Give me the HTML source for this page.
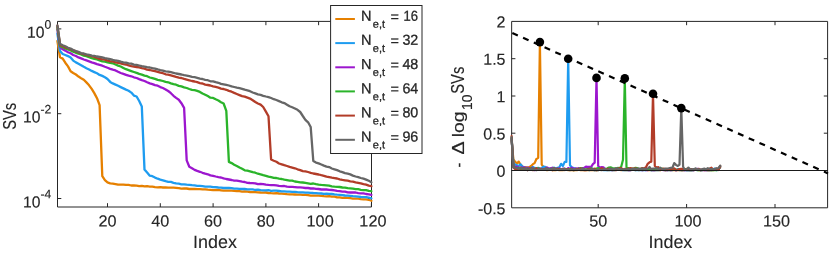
<!DOCTYPE html>
<html><head><meta charset="utf-8"><title>chart</title><style>html,body{margin:0;padding:0;background:#fff}body{width:830px;height:254px;overflow:hidden}</style></head><body>
<svg width="830" height="254" viewBox="0 0 830 254" style="display:block;will-change:transform;font-family:'Liberation Sans',sans-serif">
<rect width="830" height="254" fill="#fff"/>
<path d="M57.5,21.4 H371.5 V207.0 H57.5 Z" fill="none" stroke="#262626" stroke-width="1"/>
<path d="M107.5,207.0 v-3.8 M107.5,21.4 v3.8 M160.3,207.0 v-3.8 M160.3,21.4 v3.8 M213.1,207.0 v-3.8 M213.1,21.4 v3.8 M265.9,207.0 v-3.8 M265.9,21.4 v3.8 M318.6,207.0 v-3.8 M318.6,21.4 v3.8 M371.4,207.0 v-3.8 M371.4,21.4 v3.8 M57.5,28.9 h3.8 M371.5,28.9 h-3.8 M57.5,113.7 h3.8 M371.5,113.7 h-3.8 M57.5,198.5 h3.8 M371.5,198.5 h-3.8" stroke="#262626" stroke-width="1" fill="none"/>
<path d="M57.4,41.0 L60.0,57.3 L62.7,58.6 L65.3,62.7 L68.0,66.4 L70.6,71.2 L73.2,73.0 L75.9,74.5 L78.5,76.6 L81.1,78.2 L83.8,79.7 L86.4,82.4 L89.1,85.3 L91.7,88.9 L94.3,93.1 L97.0,98.2 L99.6,105.1 L102.3,176.2 L104.9,180.1 L107.5,182.4 L110.2,183.4 L112.8,183.7 L115.5,184.1 L118.1,184.7 L120.7,184.6 L123.4,184.6 L126.0,184.9 L128.6,184.8 L131.3,185.5 L133.9,185.5 L136.6,185.6 L139.2,186.1 L141.8,185.9 L144.5,186.4 L147.1,186.2 L149.8,186.6 L152.4,186.7 L155.0,187.2 L157.7,187.4 L160.3,187.2 L162.9,187.5 L165.6,187.5 L168.2,187.7 L170.9,187.7 L173.5,187.7 L176.1,187.8 L178.8,188.2 L181.4,188.7 L184.1,188.5 L186.7,188.5 L189.3,189.0 L192.0,188.9 L194.6,189.0 L197.2,189.2 L199.9,189.2 L202.5,189.3 L205.2,189.3 L207.8,189.7 L210.4,189.8 L213.1,190.1 L215.7,190.0 L218.4,189.9 L221.0,190.3 L223.6,190.7 L226.3,190.6 L228.9,190.6 L231.6,190.7 L234.2,190.9 L236.8,191.1 L239.5,191.1 L242.1,191.6 L244.7,191.5 L247.4,191.7 L250.0,192.0 L252.7,192.2 L255.3,192.1 L257.9,192.3 L260.6,192.5 L263.2,192.6 L265.9,192.5 L268.5,193.0 L271.1,193.2 L273.8,193.3 L276.4,193.2 L279.0,193.5 L281.7,193.6 L284.3,193.8 L287.0,194.2 L289.6,194.3 L292.2,194.4 L294.9,194.5 L297.5,194.7 L300.2,194.7 L302.8,194.9 L305.4,194.9 L308.1,195.2 L310.7,195.7 L313.3,195.6 L316.0,195.6 L318.6,195.7 L321.3,195.8 L323.9,196.1 L326.5,196.3 L329.2,196.2 L331.8,196.7 L334.5,196.7 L337.1,197.3 L339.7,197.3 L342.4,197.8 L345.0,197.7 L347.7,197.9 L350.3,198.2 L352.9,198.6 L355.6,198.7 L358.2,198.7 L360.8,199.1 L363.5,199.3 L366.1,199.4 L368.8,199.8 L371.4,200.8" fill="none" stroke="#E68000" stroke-width="2.3" stroke-linejoin="round" stroke-linecap="round"/>
<path d="M57.4,33.5 L60.0,50.9 L62.7,54.0 L65.3,55.0 L68.0,56.1 L70.6,57.6 L73.2,60.6 L75.9,62.4 L78.5,63.7 L81.1,65.2 L83.8,66.8 L86.4,68.2 L89.1,69.5 L91.7,70.9 L94.3,72.1 L97.0,73.3 L99.6,74.9 L102.3,75.9 L104.9,77.2 L107.5,79.0 L110.2,81.9 L112.8,83.4 L115.5,84.6 L118.1,85.8 L120.7,87.1 L123.4,88.4 L126.0,89.6 L128.6,90.7 L131.3,92.6 L133.9,95.6 L136.6,96.5 L139.2,101.0 L141.8,106.4 L144.5,169.6 L147.1,172.6 L149.8,175.7 L152.4,176.2 L155.0,177.6 L157.7,178.7 L160.3,179.6 L162.9,180.3 L165.6,181.1 L168.2,181.8 L170.9,181.9 L173.5,182.8 L176.1,183.4 L178.8,183.7 L181.4,184.3 L184.1,184.3 L186.7,184.6 L189.3,184.8 L192.0,185.2 L194.6,185.4 L197.2,185.8 L199.9,185.8 L202.5,186.2 L205.2,186.6 L207.8,186.7 L210.4,186.7 L213.1,187.2 L215.7,187.2 L218.4,187.5 L221.0,187.7 L223.6,188.0 L226.3,188.0 L228.9,187.8 L231.6,188.1 L234.2,188.6 L236.8,188.6 L239.5,188.9 L242.1,189.0 L244.7,189.0 L247.4,189.4 L250.0,189.3 L252.7,189.3 L255.3,190.0 L257.9,189.6 L260.6,190.1 L263.2,190.3 L265.9,190.3 L268.5,190.2 L271.1,190.8 L273.8,190.6 L276.4,190.7 L279.0,191.0 L281.7,191.3 L284.3,191.4 L287.0,191.6 L289.6,191.6 L292.2,191.8 L294.9,191.8 L297.5,192.1 L300.2,192.3 L302.8,192.4 L305.4,192.6 L308.1,192.6 L310.7,192.8 L313.3,193.0 L316.0,193.1 L318.6,193.4 L321.3,193.5 L323.9,193.9 L326.5,193.7 L329.2,193.9 L331.8,194.0 L334.5,194.4 L337.1,194.7 L339.7,194.8 L342.4,195.1 L345.0,195.5 L347.7,195.6 L350.3,195.8 L352.9,196.2 L355.6,196.3 L358.2,196.6 L360.8,197.0 L363.5,197.2 L366.1,197.2 L368.8,197.7 L371.4,198.3" fill="none" stroke="#1E9CF0" stroke-width="2.3" stroke-linejoin="round" stroke-linecap="round"/>
<path d="M57.4,29.4 L60.0,46.9 L62.7,49.3 L65.3,50.6 L68.0,52.3 L70.6,53.3 L73.2,55.0 L75.9,56.0 L78.5,57.4 L81.1,58.4 L83.8,59.5 L86.4,60.4 L89.1,61.4 L91.7,62.4 L94.3,63.2 L97.0,64.2 L99.6,64.9 L102.3,65.7 L104.9,66.8 L107.5,67.8 L110.2,68.9 L112.8,69.7 L115.5,70.4 L118.1,71.8 L120.7,73.0 L123.4,73.9 L126.0,74.8 L128.6,75.7 L131.3,76.3 L133.9,77.3 L136.6,78.0 L139.2,79.1 L141.8,80.1 L144.5,81.0 L147.1,82.3 L149.8,83.4 L152.4,84.1 L155.0,85.1 L157.7,85.7 L160.3,87.1 L162.9,88.0 L165.6,89.4 L168.2,91.0 L170.9,93.2 L173.5,95.8 L176.1,97.9 L178.8,99.7 L181.4,103.2 L184.1,107.8 L186.7,160.4 L189.3,166.8 L192.0,168.2 L194.6,169.9 L197.2,170.9 L199.9,171.8 L202.5,172.8 L205.2,173.7 L207.8,174.3 L210.4,175.4 L213.1,175.8 L215.7,176.5 L218.4,177.1 L221.0,177.5 L223.6,178.3 L226.3,179.0 L228.9,179.5 L231.6,180.0 L234.2,180.6 L236.8,180.7 L239.5,181.1 L242.1,181.6 L244.7,182.0 L247.4,182.8 L250.0,183.0 L252.7,183.1 L255.3,183.4 L257.9,184.2 L260.6,183.9 L263.2,184.1 L265.9,184.6 L268.5,184.9 L271.1,185.1 L273.8,185.2 L276.4,185.4 L279.0,185.9 L281.7,186.1 L284.3,186.0 L287.0,186.7 L289.6,186.8 L292.2,186.9 L294.9,187.1 L297.5,187.4 L300.2,187.4 L302.8,187.6 L305.4,188.0 L308.1,188.0 L310.7,188.5 L313.3,188.4 L316.0,188.8 L318.6,189.0 L321.3,189.5 L323.9,189.3 L326.5,189.5 L329.2,189.8 L331.8,190.0 L334.5,190.4 L337.1,190.9 L339.7,191.2 L342.4,191.6 L345.0,191.6 L347.7,192.3 L350.3,192.5 L352.9,192.5 L355.6,192.5 L358.2,193.1 L360.8,193.4 L363.5,193.3 L366.1,194.0 L368.8,194.4 L371.4,194.9" fill="none" stroke="#9C16CE" stroke-width="2.3" stroke-linejoin="round" stroke-linecap="round"/>
<path d="M57.4,27.1 L60.0,46.0 L62.7,47.3 L65.3,48.5 L68.0,49.5 L70.6,50.5 L73.2,51.7 L75.9,52.8 L78.5,53.7 L81.1,54.4 L83.8,55.7 L86.4,56.1 L89.1,57.2 L91.7,58.2 L94.3,58.8 L97.0,59.5 L99.6,60.4 L102.3,61.3 L104.9,61.7 L107.5,62.3 L110.2,62.9 L112.8,63.3 L115.5,64.5 L118.1,65.6 L120.7,66.5 L123.4,67.9 L126.0,69.2 L128.6,70.1 L131.3,71.1 L133.9,72.0 L136.6,72.9 L139.2,73.9 L141.8,74.6 L144.5,75.6 L147.1,76.2 L149.8,77.5 L152.4,78.1 L155.0,78.9 L157.7,79.8 L160.3,80.4 L162.9,81.0 L165.6,81.9 L168.2,82.3 L170.9,83.4 L173.5,84.2 L176.1,84.7 L178.8,85.9 L181.4,86.4 L184.1,87.4 L186.7,88.0 L189.3,89.0 L192.0,89.8 L194.6,90.2 L197.2,90.9 L199.9,91.9 L202.5,93.5 L205.2,94.7 L207.8,96.1 L210.4,97.7 L213.1,97.9 L215.7,99.3 L218.4,100.5 L221.0,102.2 L223.6,103.5 L226.3,110.9 L228.9,161.9 L231.6,163.1 L234.2,164.7 L236.8,166.0 L239.5,167.5 L242.1,168.8 L244.7,170.3 L247.4,170.7 L250.0,171.4 L252.7,172.2 L255.3,172.7 L257.9,173.7 L260.6,174.4 L263.2,175.2 L265.9,175.8 L268.5,176.6 L271.1,177.2 L273.8,177.9 L276.4,178.0 L279.0,178.7 L281.7,179.0 L284.3,179.7 L287.0,180.2 L289.6,180.7 L292.2,180.7 L294.9,181.5 L297.5,181.9 L300.2,182.3 L302.8,182.5 L305.4,182.9 L308.1,183.4 L310.7,183.9 L313.3,183.5 L316.0,184.2 L318.6,184.6 L321.3,184.9 L323.9,185.1 L326.5,185.3 L329.2,185.7 L331.8,186.3 L334.5,186.6 L337.1,186.8 L339.7,187.0 L342.4,187.5 L345.0,187.7 L347.7,188.2 L350.3,188.4 L352.9,188.7 L355.6,189.1 L358.2,189.2 L360.8,189.8 L363.5,190.2 L366.1,190.2 L368.8,190.9 L371.4,191.2" fill="none" stroke="#2AB42A" stroke-width="2.3" stroke-linejoin="round" stroke-linecap="round"/>
<path d="M57.4,25.7 L60.0,44.7 L62.7,46.1 L65.3,47.4 L68.0,48.2 L70.6,49.3 L73.2,50.3 L75.9,51.4 L78.5,52.5 L81.1,53.5 L83.8,54.1 L86.4,55.0 L89.1,55.7 L91.7,56.2 L94.3,56.9 L97.0,58.0 L99.6,58.9 L102.3,59.3 L104.9,59.7 L107.5,60.6 L110.2,61.3 L112.8,61.4 L115.5,62.4 L118.1,62.9 L120.7,63.4 L123.4,64.2 L126.0,64.5 L128.6,65.3 L131.3,66.1 L133.9,66.5 L136.6,67.0 L139.2,67.4 L141.8,68.1 L144.5,68.6 L147.1,69.7 L149.8,70.0 L152.4,70.6 L155.0,71.2 L157.7,71.9 L160.3,72.7 L162.9,73.2 L165.6,74.3 L168.2,74.6 L170.9,75.3 L173.5,76.1 L176.1,76.9 L178.8,77.6 L181.4,78.0 L184.1,78.9 L186.7,79.6 L189.3,80.3 L192.0,81.0 L194.6,81.5 L197.2,82.2 L199.9,83.1 L202.5,83.5 L205.2,84.6 L207.8,85.0 L210.4,85.5 L213.1,86.3 L215.7,86.9 L218.4,87.6 L221.0,88.6 L223.6,89.0 L226.3,89.8 L228.9,90.9 L231.6,91.7 L234.2,92.9 L236.8,94.0 L239.5,95.1 L242.1,96.1 L244.7,96.7 L247.4,97.7 L250.0,98.6 L252.7,100.2 L255.3,102.0 L257.9,103.5 L260.6,104.6 L263.2,107.0 L265.9,111.6 L268.5,116.2 L271.1,159.5 L273.8,160.8 L276.4,161.8 L279.0,163.5 L281.7,164.3 L284.3,165.2 L287.0,166.0 L289.6,166.9 L292.2,167.6 L294.9,168.3 L297.5,169.3 L300.2,170.1 L302.8,171.1 L305.4,171.4 L308.1,172.0 L310.7,172.8 L313.3,173.5 L316.0,174.0 L318.6,174.5 L321.3,175.2 L323.9,175.8 L326.5,176.7 L329.2,177.2 L331.8,177.7 L334.5,178.1 L337.1,178.5 L339.7,179.3 L342.4,179.9 L345.0,180.3 L347.7,180.7 L350.3,181.4 L352.9,181.7 L355.6,182.4 L358.2,182.8 L360.8,183.4 L363.5,184.2 L366.1,184.7 L368.8,185.7 L371.4,186.2" fill="none" stroke="#B23C28" stroke-width="2.3" stroke-linejoin="round" stroke-linecap="round"/>
<path d="M57.4,25.3 L60.0,43.8 L62.7,45.2 L65.3,46.3 L68.0,47.8 L70.6,48.6 L73.2,50.0 L75.9,51.1 L78.5,51.9 L81.1,53.1 L83.8,53.5 L86.4,54.3 L89.1,54.8 L91.7,55.7 L94.3,55.9 L97.0,56.5 L99.6,56.8 L102.3,57.4 L104.9,58.1 L107.5,58.6 L110.2,59.2 L112.8,59.9 L115.5,60.5 L118.1,60.8 L120.7,61.7 L123.4,62.3 L126.0,62.7 L128.6,63.4 L131.3,63.7 L133.9,64.6 L136.6,64.9 L139.2,65.5 L141.8,66.2 L144.5,66.6 L147.1,67.2 L149.8,67.5 L152.4,68.2 L155.0,68.6 L157.7,69.4 L160.3,70.1 L162.9,70.6 L165.6,71.3 L168.2,71.6 L170.9,72.2 L173.5,72.8 L176.1,73.5 L178.8,74.0 L181.4,74.5 L184.1,75.2 L186.7,75.6 L189.3,76.2 L192.0,76.9 L194.6,77.2 L197.2,77.8 L199.9,78.6 L202.5,79.0 L205.2,79.8 L207.8,80.2 L210.4,81.3 L213.1,81.3 L215.7,82.1 L218.4,82.8 L221.0,83.9 L223.6,84.4 L226.3,84.9 L228.9,85.5 L231.6,86.4 L234.2,87.0 L236.8,87.6 L239.5,88.1 L242.1,88.8 L244.7,89.7 L247.4,90.4 L250.0,91.2 L252.7,92.5 L255.3,93.4 L257.9,94.4 L260.6,94.9 L263.2,95.8 L265.9,96.5 L268.5,97.1 L271.1,98.0 L273.8,99.2 L276.4,100.0 L279.0,101.1 L281.7,102.3 L284.3,103.1 L287.0,104.7 L289.6,106.3 L292.2,107.3 L294.9,108.5 L297.5,109.8 L300.2,112.0 L302.8,116.0 L305.4,119.8 L308.1,122.3 L310.7,127.0 L313.3,161.0 L316.0,162.6 L318.6,163.4 L321.3,164.5 L323.9,165.6 L326.5,166.6 L329.2,167.1 L331.8,168.5 L334.5,169.3 L337.1,170.1 L339.7,171.3 L342.4,172.1 L345.0,173.1 L347.7,173.7 L350.3,174.4 L352.9,175.6 L355.6,176.5 L358.2,177.1 L360.8,178.0 L363.5,178.7 L366.1,179.6 L368.8,180.8 L371.4,182.2" fill="none" stroke="#666666" stroke-width="2.3" stroke-linejoin="round" stroke-linecap="round"/>
<text transform="translate(107.53,226.60) rotate(0.04) scale(1.0140,1.0007)" font-size="16.0" text-anchor="middle" fill="#262626" stroke="#262626" stroke-width="0.15">20</text>
<text transform="translate(160.31,226.60) rotate(0.04) scale(1.0140,1.0007)" font-size="16.0" text-anchor="middle" fill="#262626" stroke="#262626" stroke-width="0.15">40</text>
<text transform="translate(213.08,226.60) rotate(0.04) scale(1.0140,1.0007)" font-size="16.0" text-anchor="middle" fill="#262626" stroke="#262626" stroke-width="0.15">60</text>
<text transform="translate(265.85,226.60) rotate(0.04) scale(1.0140,1.0007)" font-size="16.0" text-anchor="middle" fill="#262626" stroke="#262626" stroke-width="0.15">80</text>
<text transform="translate(320.13,226.60) rotate(0.04) scale(1.0140,1.0007)" font-size="16.0" text-anchor="middle" fill="#262626" stroke="#262626" stroke-width="0.15">100</text>
<text transform="translate(372.90,226.60) rotate(0.04) scale(1.0140,1.0007)" font-size="16.0" text-anchor="middle" fill="#262626" stroke="#262626" stroke-width="0.15">120</text>
<text transform="translate(51.20,37.80) rotate(0.04) scale(0.9800,1.0007)" font-size="16.0" text-anchor="end" fill="#262626" stroke="#262626" stroke-width="0.15">10<tspan font-size="12.4" dy="-9.1">0</tspan></text>
<text transform="translate(51.20,122.60) rotate(0.04) scale(0.9800,1.0007)" font-size="16.0" text-anchor="end" fill="#262626" stroke="#262626" stroke-width="0.15">10<tspan font-size="12.4" dy="-9.1">-2</tspan></text>
<text transform="translate(51.20,207.40) rotate(0.04) scale(0.9800,1.0007)" font-size="16.0" text-anchor="end" fill="#262626" stroke="#262626" stroke-width="0.15">10<tspan font-size="12.4" dy="-9.1">-4</tspan></text>
<text transform="translate(215.00,248.00) rotate(0.04) scale(1.0007,1.0007)" font-size="17.9" text-anchor="middle" fill="#262626" stroke="#262626" stroke-width="0.1">Index</text>
<text transform="translate(15.70,116.30) rotate(-90) scale(0.8040,1.0007)" font-size="18.4" text-anchor="middle" fill="#262626" stroke="#262626" stroke-width="0.15">SVs</text>
<rect x="330.6" y="5.5" width="91.4" height="148" fill="#fff" stroke="#262626" stroke-width="1"/>
<path d="M335.3,19.0 H354.9" stroke="#E68000" stroke-width="2"/>
<text transform="translate(360.90,20.70) rotate(0.04) scale(1.0007,1.0007)" font-size="14.5" text-anchor="start" fill="#262626" stroke="#262626" stroke-width="0.3">N</text>
<text transform="translate(372.80,27.80) rotate(0.04) scale(1.0007,1.0007)" font-size="11" text-anchor="start" fill="#262626" stroke="#262626" stroke-width="0.3">e,t</text>
<text transform="translate(390.50,21.40) rotate(0.04) scale(1.0007,1.0007)" font-size="14.5" text-anchor="start" fill="#262626" stroke="#262626" stroke-width="0.2">=</text>
<text transform="translate(403.60,20.70) rotate(0.04) scale(0.9000,1.0007)" font-size="14.5" text-anchor="start" fill="#262626" stroke="#262626" stroke-width="0.3">16</text>
<path d="M335.3,43.1 H354.9" stroke="#1E9CF0" stroke-width="2"/>
<text transform="translate(360.90,44.85) rotate(0.04) scale(1.0007,1.0007)" font-size="14.5" text-anchor="start" fill="#262626" stroke="#262626" stroke-width="0.3">N</text>
<text transform="translate(372.80,51.95) rotate(0.04) scale(1.0007,1.0007)" font-size="11" text-anchor="start" fill="#262626" stroke="#262626" stroke-width="0.3">e,t</text>
<text transform="translate(390.50,45.55) rotate(0.04) scale(1.0007,1.0007)" font-size="14.5" text-anchor="start" fill="#262626" stroke="#262626" stroke-width="0.2">=</text>
<text transform="translate(402.40,44.85) rotate(0.04) scale(0.9850,1.0007)" font-size="14.5" text-anchor="start" fill="#262626" stroke="#262626" stroke-width="0.3">32</text>
<path d="M335.3,67.3 H354.9" stroke="#9C16CE" stroke-width="2"/>
<text transform="translate(360.90,69.00) rotate(0.04) scale(1.0007,1.0007)" font-size="14.5" text-anchor="start" fill="#262626" stroke="#262626" stroke-width="0.3">N</text>
<text transform="translate(372.80,76.10) rotate(0.04) scale(1.0007,1.0007)" font-size="11" text-anchor="start" fill="#262626" stroke="#262626" stroke-width="0.3">e,t</text>
<text transform="translate(390.50,69.70) rotate(0.04) scale(1.0007,1.0007)" font-size="14.5" text-anchor="start" fill="#262626" stroke="#262626" stroke-width="0.2">=</text>
<text transform="translate(402.40,69.00) rotate(0.04) scale(0.9850,1.0007)" font-size="14.5" text-anchor="start" fill="#262626" stroke="#262626" stroke-width="0.3">48</text>
<path d="M335.3,91.4 H354.9" stroke="#2AB42A" stroke-width="2"/>
<text transform="translate(360.90,93.15) rotate(0.04) scale(1.0007,1.0007)" font-size="14.5" text-anchor="start" fill="#262626" stroke="#262626" stroke-width="0.3">N</text>
<text transform="translate(372.80,100.25) rotate(0.04) scale(1.0007,1.0007)" font-size="11" text-anchor="start" fill="#262626" stroke="#262626" stroke-width="0.3">e,t</text>
<text transform="translate(390.50,93.85) rotate(0.04) scale(1.0007,1.0007)" font-size="14.5" text-anchor="start" fill="#262626" stroke="#262626" stroke-width="0.2">=</text>
<text transform="translate(402.40,93.15) rotate(0.04) scale(0.9850,1.0007)" font-size="14.5" text-anchor="start" fill="#262626" stroke="#262626" stroke-width="0.3">64</text>
<path d="M335.3,115.6 H354.9" stroke="#B23C28" stroke-width="2"/>
<text transform="translate(360.90,117.30) rotate(0.04) scale(1.0007,1.0007)" font-size="14.5" text-anchor="start" fill="#262626" stroke="#262626" stroke-width="0.3">N</text>
<text transform="translate(372.80,124.40) rotate(0.04) scale(1.0007,1.0007)" font-size="11" text-anchor="start" fill="#262626" stroke="#262626" stroke-width="0.3">e,t</text>
<text transform="translate(390.50,118.00) rotate(0.04) scale(1.0007,1.0007)" font-size="14.5" text-anchor="start" fill="#262626" stroke="#262626" stroke-width="0.2">=</text>
<text transform="translate(402.40,117.30) rotate(0.04) scale(0.9850,1.0007)" font-size="14.5" text-anchor="start" fill="#262626" stroke="#262626" stroke-width="0.3">80</text>
<path d="M335.3,139.8 H354.9" stroke="#666666" stroke-width="2"/>
<text transform="translate(360.90,141.45) rotate(0.04) scale(1.0007,1.0007)" font-size="14.5" text-anchor="start" fill="#262626" stroke="#262626" stroke-width="0.3">N</text>
<text transform="translate(372.80,148.55) rotate(0.04) scale(1.0007,1.0007)" font-size="11" text-anchor="start" fill="#262626" stroke="#262626" stroke-width="0.3">e,t</text>
<text transform="translate(390.50,142.15) rotate(0.04) scale(1.0007,1.0007)" font-size="14.5" text-anchor="start" fill="#262626" stroke="#262626" stroke-width="0.2">=</text>
<text transform="translate(402.40,141.45) rotate(0.04) scale(0.9850,1.0007)" font-size="14.5" text-anchor="start" fill="#262626" stroke="#262626" stroke-width="0.3">96</text>
<path d="M511.65,21.4 H827.6 V207.8 H511.65 Z" fill="none" stroke="#262626" stroke-width="1"/>
<path d="M598.2,207.8 v-3.8 M598.2,21.4 v3.8 M686.6,207.8 v-3.8 M686.6,21.4 v3.8 M775.0,207.8 v-3.8 M775.0,21.4 v3.8 M511.6,58.7 h3.8 M827.6,58.7 h-3.8 M511.6,96.0 h3.8 M827.6,96.0 h-3.8 M511.6,133.2 h3.8 M827.6,133.2 h-3.8 M511.6,170.5 h3.8 M827.6,170.5 h-3.8" stroke="#262626" stroke-width="1" fill="none"/>
<path d="M511.6,140.7 L513.4,159.3 L515.2,161.9 L517.0,163.4 L518.7,161.6 L520.5,164.6 L522.3,166.4 L524.0,167.2 L525.8,167.2 L527.6,167.5 L529.3,167.2 L531.1,166.0 L532.9,164.2 L534.6,163.1 L536.4,159.0 L538.2,157.8 L539.9,42.1 L541.7,164.6 L543.5,167.2 L545.2,169.2 L547.0,170.2 L548.8,169.9 L550.5,169.0 L552.3,170.2 L554.1,170.2 L555.8,170.2 L557.6,169.8 L559.4,170.1 L561.1,170.2 L562.9,170.2 L564.7,169.7 L566.4,169.1 L568.2,170.2 L570.0,170.2 L571.7,170.2 L573.5,170.2 L575.3,170.2 L577.0,170.2 L578.8,169.8 L580.6,170.2 L582.3,170.2 L584.1,170.0 L585.9,170.2 L587.6,170.2 L589.4,170.2 L591.2,170.2 L592.9,170.2 L594.7,170.2 L596.5,170.2 L598.2,170.2 L600.0,169.7 L601.8,169.9 L603.6,169.6 L605.3,169.7 L607.1,169.5 L608.9,170.2 L610.6,169.6 L612.4,170.2 L614.2,170.2 L615.9,170.2 L617.7,169.8 L619.5,169.2 L621.2,170.2 L623.0,169.4 L624.8,170.2 L626.5,170.2 L628.3,170.1 L630.1,170.2 L631.8,169.9 L633.6,168.9 L635.4,170.2 L637.1,169.7 L638.9,170.2 L640.7,169.2 L642.4,170.1 L644.2,169.9 L646.0,169.8 L647.7,170.2 L649.5,170.2 L651.3,169.2 L653.0,170.2 L654.8,170.2 L656.6,170.0 L658.3,170.2 L660.1,170.2 L661.9,169.4 L663.6,170.0 L665.4,170.2 L667.2,170.2 L668.9,170.2 L670.7,170.2 L672.5,170.2 L674.2,170.2 L676.0,170.1 L677.8,170.2 L679.5,170.1 L681.3,170.0 L683.1,170.2 L684.8,170.2 L686.6,168.9 L688.4,169.6 L690.1,170.2 L691.9,170.2 L693.7,169.8 L695.5,169.3 L697.2,169.9 L699.0,170.2 L700.8,170.2 L702.5,169.9 L704.3,170.0 L706.1,170.2 L707.8,170.1 L709.6,170.2 L711.4,169.9 L713.1,170.2 L714.9,169.8 L716.7,169.6 L718.4,169.4 L720.2,167.2" fill="none" stroke="#E68000" stroke-width="2.2" stroke-linejoin="round" stroke-linecap="round"/>
<path d="M511.6,139.2 L513.4,163.1 L515.2,164.6 L517.0,165.3 L518.7,166.0 L520.5,164.3 L522.3,166.4 L524.0,167.2 L525.8,167.8 L527.6,168.3 L529.3,168.5 L531.1,168.2 L532.9,167.0 L534.6,167.9 L536.4,168.6 L538.2,167.8 L539.9,168.6 L541.7,168.4 L543.5,166.6 L545.2,166.9 L547.0,168.4 L548.8,168.8 L550.5,168.3 L552.3,168.2 L554.1,167.5 L555.8,168.8 L557.6,167.7 L559.4,167.2 L561.1,163.8 L562.9,166.0 L564.7,161.9 L566.4,161.9 L568.2,58.8 L570.0,165.3 L571.7,167.2 L573.5,168.1 L575.3,168.3 L577.0,169.0 L578.8,168.9 L580.6,169.3 L582.3,168.6 L584.1,169.9 L585.9,169.7 L587.6,169.6 L589.4,170.2 L591.2,168.1 L592.9,169.9 L594.7,170.2 L596.5,169.3 L598.2,170.2 L600.0,169.8 L601.8,169.5 L603.6,170.2 L605.3,170.2 L607.1,170.2 L608.9,170.0 L610.6,170.2 L612.4,170.2 L614.2,170.2 L615.9,169.5 L617.7,169.8 L619.5,169.1 L621.2,169.8 L623.0,170.2 L624.8,170.2 L626.5,170.2 L628.3,170.2 L630.1,170.2 L631.8,170.0 L633.6,169.9 L635.4,170.2 L637.1,170.2 L638.9,170.2 L640.7,170.2 L642.4,169.9 L644.2,170.1 L646.0,170.2 L647.7,168.9 L649.5,169.8 L651.3,170.2 L653.0,170.2 L654.8,170.2 L656.6,170.2 L658.3,170.1 L660.1,169.8 L661.9,169.8 L663.6,169.5 L665.4,169.7 L667.2,170.2 L668.9,170.1 L670.7,170.2 L672.5,170.2 L674.2,169.1 L676.0,170.2 L677.8,169.2 L679.5,170.2 L681.3,170.0 L683.1,169.5 L684.8,170.2 L686.6,169.9 L688.4,170.2 L690.1,170.2 L691.9,170.2 L693.7,170.2 L695.5,169.0 L697.2,170.1 L699.0,169.2 L700.8,170.2 L702.5,170.0 L704.3,169.8 L706.1,170.2 L707.8,169.3 L709.6,169.7 L711.4,170.2 L713.1,169.7 L714.9,168.5 L716.7,170.1 L718.4,169.7 L720.2,166.9" fill="none" stroke="#1E9CF0" stroke-width="2.2" stroke-linejoin="round" stroke-linecap="round"/>
<path d="M511.6,138.5 L513.4,166.0 L515.2,166.8 L517.0,166.6 L518.7,167.5 L520.5,167.7 L522.3,167.6 L524.0,167.3 L525.8,168.2 L527.6,167.5 L529.3,168.2 L531.1,168.8 L532.9,167.8 L534.6,170.2 L536.4,169.3 L538.2,169.0 L539.9,169.6 L541.7,168.9 L543.5,169.1 L545.2,169.2 L547.0,167.4 L548.8,168.5 L550.5,168.5 L552.3,167.7 L554.1,169.0 L555.8,168.4 L557.6,168.8 L559.4,168.2 L561.1,169.9 L562.9,168.5 L564.7,168.7 L566.4,169.5 L568.2,168.1 L570.0,169.0 L571.7,167.7 L573.5,168.7 L575.3,168.7 L577.0,168.9 L578.8,168.1 L580.6,169.7 L582.3,168.1 L584.1,167.8 L585.9,166.6 L587.6,166.8 L589.4,166.8 L591.2,166.8 L592.9,164.2 L594.7,162.7 L596.5,77.9 L598.2,166.0 L600.0,167.5 L601.8,167.2 L603.6,167.4 L605.3,169.6 L607.1,169.2 L608.9,169.6 L610.6,169.8 L612.4,170.1 L614.2,169.1 L615.9,170.1 L617.7,168.7 L619.5,169.0 L621.2,169.9 L623.0,169.9 L624.8,170.0 L626.5,168.8 L628.3,170.2 L630.1,170.2 L631.8,170.0 L633.6,169.5 L635.4,170.0 L637.1,168.6 L638.9,169.8 L640.7,169.9 L642.4,170.2 L644.2,169.8 L646.0,170.2 L647.7,170.2 L649.5,169.7 L651.3,170.2 L653.0,170.2 L654.8,170.2 L656.6,168.8 L658.3,169.7 L660.1,169.7 L661.9,169.6 L663.6,170.2 L665.4,170.2 L667.2,170.2 L668.9,169.6 L670.7,170.1 L672.5,169.8 L674.2,169.6 L676.0,170.2 L677.8,170.0 L679.5,169.0 L681.3,170.2 L683.1,170.2 L684.8,170.1 L686.6,170.2 L688.4,170.2 L690.1,170.2 L691.9,170.0 L693.7,170.2 L695.5,169.4 L697.2,168.9 L699.0,169.1 L700.8,170.2 L702.5,169.9 L704.3,170.2 L706.1,169.9 L707.8,170.2 L709.6,170.2 L711.4,169.6 L713.1,169.9 L714.9,169.6 L716.7,169.7 L718.4,169.5 L720.2,166.6" fill="none" stroke="#9C16CE" stroke-width="2.2" stroke-linejoin="round" stroke-linecap="round"/>
<path d="M511.6,137.7 L513.4,166.8 L515.2,168.3 L517.0,168.7 L518.7,167.8 L520.5,169.1 L522.3,168.8 L524.0,168.8 L525.8,169.1 L527.6,168.6 L529.3,169.4 L531.1,168.1 L532.9,169.1 L534.6,168.6 L536.4,169.3 L538.2,168.2 L539.9,170.0 L541.7,169.2 L543.5,169.8 L545.2,169.4 L547.0,168.6 L548.8,169.5 L550.5,169.4 L552.3,169.2 L554.1,168.1 L555.8,169.5 L557.6,168.6 L559.4,169.6 L561.1,169.6 L562.9,169.1 L564.7,168.7 L566.4,169.5 L568.2,169.4 L570.0,168.9 L571.7,169.0 L573.5,170.2 L575.3,169.5 L577.0,169.1 L578.8,168.7 L580.6,168.1 L582.3,168.9 L584.1,169.2 L585.9,169.6 L587.6,169.1 L589.4,168.7 L591.2,168.3 L592.9,169.7 L594.7,169.0 L596.5,168.6 L598.2,167.9 L600.0,169.0 L601.8,169.8 L603.6,169.7 L605.3,168.9 L607.1,168.5 L608.9,167.6 L610.6,167.4 L612.4,168.0 L614.2,168.3 L615.9,168.9 L617.7,167.9 L619.5,168.2 L621.2,166.8 L623.0,159.7 L624.8,78.4 L626.5,167.5 L628.3,168.2 L630.1,168.5 L631.8,169.0 L633.6,168.5 L635.4,167.9 L637.1,168.2 L638.9,169.7 L640.7,168.7 L642.4,168.6 L644.2,169.8 L646.0,169.2 L647.7,169.3 L649.5,169.2 L651.3,170.2 L653.0,169.5 L654.8,169.0 L656.6,169.1 L658.3,168.6 L660.1,169.8 L661.9,168.5 L663.6,169.2 L665.4,170.2 L667.2,169.5 L668.9,169.9 L670.7,169.3 L672.5,169.9 L674.2,169.3 L676.0,169.7 L677.8,169.9 L679.5,169.4 L681.3,170.2 L683.1,170.1 L684.8,169.0 L686.6,170.2 L688.4,170.2 L690.1,170.2 L691.9,170.2 L693.7,170.0 L695.5,168.8 L697.2,170.2 L699.0,170.1 L700.8,170.2 L702.5,170.2 L704.3,169.0 L706.1,169.5 L707.8,170.2 L709.6,170.0 L711.4,170.2 L713.1,170.2 L714.9,170.2 L716.7,170.2 L718.4,169.6 L720.2,166.3" fill="none" stroke="#2AB42A" stroke-width="2.2" stroke-linejoin="round" stroke-linecap="round"/>
<path d="M511.6,136.2 L513.4,167.5 L515.2,169.2 L517.0,168.8 L518.7,169.3 L520.5,168.1 L522.3,168.3 L524.0,168.2 L525.8,169.1 L527.6,170.2 L529.3,168.5 L531.1,168.5 L532.9,170.2 L534.6,169.2 L536.4,168.2 L538.2,169.7 L539.9,168.5 L541.7,169.8 L543.5,169.9 L545.2,168.6 L547.0,169.5 L548.8,169.8 L550.5,168.9 L552.3,170.2 L554.1,168.4 L555.8,170.0 L557.6,169.1 L559.4,169.5 L561.1,169.4 L562.9,169.2 L564.7,170.1 L566.4,169.0 L568.2,169.5 L570.0,169.6 L571.7,169.6 L573.5,170.2 L575.3,169.9 L577.0,168.7 L578.8,169.4 L580.6,168.6 L582.3,168.9 L584.1,170.1 L585.9,170.2 L587.6,169.5 L589.4,168.9 L591.2,169.3 L592.9,170.0 L594.7,168.7 L596.5,170.2 L598.2,170.0 L600.0,169.3 L601.8,168.2 L603.6,169.1 L605.3,169.8 L607.1,168.9 L608.9,168.8 L610.6,168.9 L612.4,169.8 L614.2,169.8 L615.9,169.2 L617.7,168.9 L619.5,168.2 L621.2,168.1 L623.0,169.6 L624.8,169.2 L626.5,168.9 L628.3,168.8 L630.1,168.2 L631.8,168.3 L633.6,168.7 L635.4,168.3 L637.1,169.1 L638.9,169.3 L640.7,168.9 L642.4,168.1 L644.2,168.5 L646.0,167.2 L647.7,163.8 L649.5,162.3 L651.3,161.6 L653.0,93.8 L654.8,166.0 L656.6,167.5 L658.3,167.1 L660.1,170.0 L661.9,169.0 L663.6,168.6 L665.4,169.0 L667.2,169.3 L668.9,168.7 L670.7,169.7 L672.5,168.7 L674.2,168.3 L676.0,170.1 L677.8,169.9 L679.5,169.1 L681.3,168.8 L683.1,168.8 L684.8,169.2 L686.6,169.8 L688.4,169.9 L690.1,169.1 L691.9,169.2 L693.7,170.2 L695.5,169.7 L697.2,169.5 L699.0,168.8 L700.8,170.1 L702.5,169.4 L704.3,170.2 L706.1,169.8 L707.8,169.7 L709.6,168.7 L711.4,167.7 L713.1,169.4 L714.9,169.0 L716.7,168.7 L718.4,170.0 L720.2,166.0" fill="none" stroke="#B23C28" stroke-width="2.2" stroke-linejoin="round" stroke-linecap="round"/>
<path d="M511.6,137.0 L513.4,167.5 L515.2,167.4 L517.0,168.1 L518.7,169.0 L520.5,167.5 L522.3,168.4 L524.0,168.7 L525.8,168.6 L527.6,170.2 L529.3,169.1 L531.1,168.8 L532.9,169.3 L534.6,169.6 L536.4,170.2 L538.2,169.4 L539.9,169.4 L541.7,169.4 L543.5,169.8 L545.2,169.0 L547.0,168.6 L548.8,169.3 L550.5,169.1 L552.3,168.6 L554.1,168.5 L555.8,169.5 L557.6,169.7 L559.4,169.8 L561.1,169.4 L562.9,169.3 L564.7,169.0 L566.4,169.7 L568.2,169.5 L570.0,170.2 L571.7,168.9 L573.5,169.9 L575.3,169.3 L577.0,169.7 L578.8,169.5 L580.6,169.9 L582.3,168.6 L584.1,169.5 L585.9,169.7 L587.6,169.9 L589.4,169.7 L591.2,169.2 L592.9,168.6 L594.7,170.2 L596.5,170.2 L598.2,169.6 L600.0,169.9 L601.8,170.2 L603.6,169.5 L605.3,168.9 L607.1,170.2 L608.9,169.3 L610.6,168.7 L612.4,168.8 L614.2,169.9 L615.9,168.1 L617.7,168.8 L619.5,169.6 L621.2,168.8 L623.0,170.2 L624.8,168.9 L626.5,170.0 L628.3,168.8 L630.1,169.9 L631.8,168.8 L633.6,168.8 L635.4,168.9 L637.1,169.2 L638.9,168.3 L640.7,169.7 L642.4,168.4 L644.2,168.8 L646.0,168.9 L647.7,168.7 L649.5,167.0 L651.3,169.2 L653.0,168.5 L654.8,168.7 L656.6,167.9 L658.3,169.9 L660.1,167.6 L661.9,169.0 L663.6,169.4 L665.4,168.6 L667.2,168.5 L668.9,168.3 L670.7,167.9 L672.5,167.5 L674.2,163.1 L676.0,164.9 L677.8,166.0 L679.5,164.6 L681.3,108.1 L683.1,166.8 L684.8,169.7 L686.6,169.5 L688.4,167.6 L690.1,169.3 L691.9,169.4 L693.7,169.2 L695.5,168.4 L697.2,169.3 L699.0,169.3 L700.8,169.8 L702.5,169.1 L704.3,168.6 L706.1,169.2 L707.8,168.2 L709.6,168.8 L711.4,169.1 L713.1,169.1 L714.9,169.1 L716.7,168.3 L718.4,168.1 L720.2,165.7" fill="none" stroke="#666666" stroke-width="2.2" stroke-linejoin="round" stroke-linecap="round"/>
<path d="M511.6,170.5 H828.0" stroke="#1a1a1a" stroke-width="1"/>
<path d="M511.6,32.7 L828.0,173.4" stroke="#000" stroke-width="2.2" stroke-dasharray="6.0,5.76" stroke-dashoffset="-0.8" fill="none"/>
<circle cx="539.9" cy="42.1" r="4.3" fill="#000"/>
<circle cx="568.2" cy="58.8" r="4.3" fill="#000"/>
<circle cx="596.5" cy="77.9" r="4.3" fill="#000"/>
<circle cx="624.8" cy="78.4" r="4.3" fill="#000"/>
<circle cx="653.0" cy="93.8" r="4.3" fill="#000"/>
<circle cx="681.3" cy="108.1" r="4.3" fill="#000"/>
<text transform="translate(598.25,226.60) rotate(0.04) scale(1.0140,1.0007)" font-size="16.0" text-anchor="middle" fill="#262626" stroke="#262626" stroke-width="0.15">50</text>
<text transform="translate(688.11,226.60) rotate(0.04) scale(1.0140,1.0007)" font-size="16.0" text-anchor="middle" fill="#262626" stroke="#262626" stroke-width="0.15">100</text>
<text transform="translate(776.48,226.60) rotate(0.04) scale(1.0140,1.0007)" font-size="16.0" text-anchor="middle" fill="#262626" stroke="#262626" stroke-width="0.15">150</text>
<text transform="translate(505.50,27.45) rotate(0.04) scale(1.0007,1.0007)" font-size="16.0" text-anchor="end" fill="#262626" stroke="#262626" stroke-width="0.15">2</text>
<text transform="translate(505.50,64.80) rotate(0.04) scale(1.0007,1.0007)" font-size="16.0" text-anchor="end" fill="#262626" stroke="#262626" stroke-width="0.15">1.5</text>
<text transform="translate(505.50,102.15) rotate(0.04) scale(1.0007,1.0007)" font-size="16.0" text-anchor="end" fill="#262626" stroke="#262626" stroke-width="0.15">1</text>
<text transform="translate(505.50,139.50) rotate(0.04) scale(1.0007,1.0007)" font-size="16.0" text-anchor="end" fill="#262626" stroke="#262626" stroke-width="0.15">0.5</text>
<text transform="translate(505.50,176.85) rotate(0.04) scale(1.0007,1.0007)" font-size="16.0" text-anchor="end" fill="#262626" stroke="#262626" stroke-width="0.15">0</text>
<text transform="translate(505.50,214.20) rotate(0.04) scale(1.0007,1.0007)" font-size="16.0" text-anchor="end" fill="#262626" stroke="#262626" stroke-width="0.15">-0.5</text>
<text transform="translate(670.40,248.00) rotate(0.04) scale(1.0007,1.0007)" font-size="17.9" text-anchor="middle" fill="#262626" stroke="#262626" stroke-width="0.1">Index</text>
<text transform="translate(464.00,167.40) rotate(-90) scale(0.8500,1.0007)" font-size="17.2" text-anchor="start" fill="#262626" stroke="#262626" stroke-width="0.15">-</text>
<text transform="translate(464.00,154.60) rotate(-90) scale(1.1700,1.0007)" font-size="16.8" text-anchor="start" fill="#262626" stroke="#262626" stroke-width="0.15">Δ</text>
<text transform="translate(464.00,137.30) rotate(-90) scale(1.1250,1.0007)" font-size="17.2" text-anchor="start" fill="#262626" stroke="#262626" stroke-width="0.15">log</text>
<text transform="translate(472.40,110.00) rotate(-90) scale(1.0007,1.0007)" font-size="13.8" text-anchor="start" fill="#262626" stroke="#262626" stroke-width="0.15">10</text>
<text transform="translate(464.20,93.80) rotate(-90) scale(0.8130,1.0007)" font-size="18.2" text-anchor="start" fill="#262626" stroke="#262626" stroke-width="0.15">SVs</text>
</svg>
</body></html>
